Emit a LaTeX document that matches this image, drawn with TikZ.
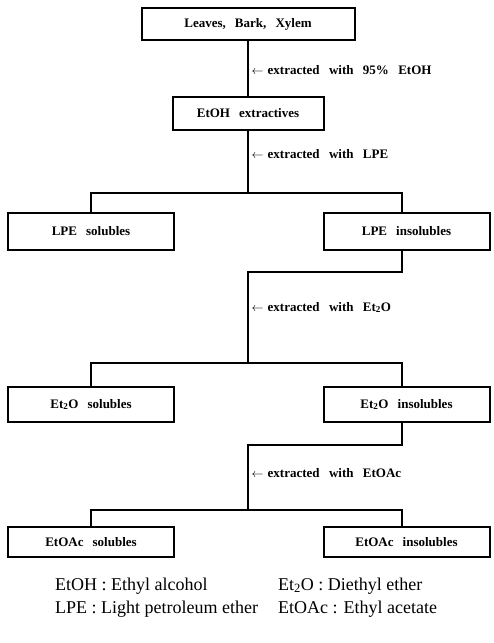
\documentclass[tikz,border=0pt]{standalone}
\usepackage{fontspec}
\setmainfont{Liberation Serif}
\newcommand\boxfont{\bfseries\fontsize{13}{15}\selectfont\spaceskip=0.7em\relax}
\newcommand\stepfont{\bfseries\fontsize{13}{15}\selectfont\spaceskip=0.72em\relax}
\newcommand\addarrow{$\leftarrow$\hspace{4pt}}
\begin{document}
\begin{tikzpicture}[x=1pt,y=-1pt,
	box/.style={draw, line width=2pt, inner sep=0pt, font=\boxfont},
	side/.style={box, minimum width=166},
	link/.style={line width=1.4pt},
	steplabel/.style={anchor=west, inner sep=0pt, xshift=3pt, font=\stepfont},
	legend/.style={anchor=west, inner sep=0pt, font=\fontsize{18}{20}\selectfont}]
	
	\useasboundingbox (0,0) rectangle (493,643);
	
	% Boxes
	\node[box, minimum width=213, minimum height=32] (plant) at (248,24) {Leaves, Bark, Xylem};
	\node[box, minimum width=151, minimum height=33] (extr) at (248,113.5) {EtOH extractives};
	\node[side, minimum height=37] (lpes) at (91,231.5) {LPE solubles};
	\node[side, minimum height=37] (lpei) at (406.5,231.5) {LPE insolubles};
	\node[side, minimum height=35] (ets) at (91,404.5) {Et\textsubscript{2}O solubles};
	\node[side, minimum height=35] (eti) at (406.5,404.5) {Et\textsubscript{2}O insolubles};
	\node[side, minimum height=30] (eas) at (91,542) {EtOAc solubles};
	\node[side, minimum height=30] (eai) at (406.5,542) {EtOAc insolubles};
	
	% Junctions
	\coordinate (j1) at (248,193);
	\coordinate (r1) at (402,272);
	\coordinate (m1) at (248,272);
	\coordinate (j2) at (248,363);
	\coordinate (r2) at (402,445);
	\coordinate (m2) at (248,445);
	\coordinate (j3) at (248,510);
	
	% Extraction steps
	\draw[link] (plant) -- node[steplabel, pos=0.53] {\addarrow extracted with 95\% EtOH} (extr);
	\draw[link] (extr) -- node[steplabel, pos=0.37] {\addarrow extracted with LPE} (j1);
	\draw[link] (lpes.north) |- (j1) -| (lpei.north -| r1);
	
	\draw[link] (lpei.south -| r1) -- (r1) -- (m1) -- node[steplabel, pos=0.39] {\addarrow extracted with Et\textsubscript{2}O} (j2);
	\draw[link] (ets.north) |- (j2) -| (eti.north -| r2);
	
	\draw[link] (eti.south -| r2) -- (r2) -- (m2) -- node[steplabel, pos=0.43] {\addarrow extracted with EtOAc} (j3);
	\draw[link] (eas.north) |- (j3) -| (eai.north -| r2);
	
	% Abbreviations
	\node[legend] (leg1) at (55,586) {EtOH : Ethyl alcohol};
	\node[legend] (leg2) at (55,609) {LPE : Light petroleum ether};
	\node[legend] (leg3) at (278,586) {Et\textsubscript{2}O : Diethyl ether};
	\node[legend] (leg4) at (278,609) {EtOAc : Ethyl acetate};
	
\end{tikzpicture}
\end{document}
